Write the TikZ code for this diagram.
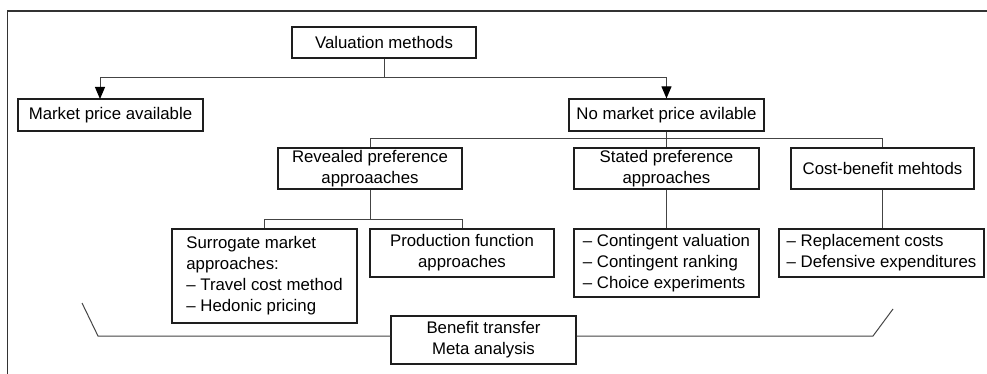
\documentclass[tikz,border=0pt]{standalone}
\usepackage{fontspec}
\setmainfont{Liberation Sans}
\usetikzlibrary{arrows.meta}
\definecolor{boxc}{HTML}{1E1E1E}
\definecolor{linec}{HTML}{444444}
\definecolor{framec}{HTML}{333333}
\begin{document}
\begin{tikzpicture}[x=1pt,y=-1pt,
  box/.style={draw=boxc, line width=1.2pt, inner sep=0pt, align=center,
    font=\fontsize{16.8}{21}\selectfont},
  lbox/.style={box, align=left},
  conn/.style={draw=linec, line width=1pt},
  arr/.style={conn, -{Triangle[length=12pt,width=10pt,fill=black,color=black]}}]
\useasboundingbox (0,0) rectangle (987,374);
\draw[framec, line width=1.2pt] (7.5,374) -- (7.5,11) -- (987,11);

\node[box, minimum width=184, minimum height=31] (vm) at (384,42.5) {Valuation methods};
\node[box, minimum width=185, minimum height=32] (market) at (110.5,115) {Market price available};
\node[box, minimum width=195, minimum height=32] (nomarket) at (666.5,115) {No market price avilable};
\node[box, minimum width=184, minimum height=41] (revealed) at (370,168.5) {Revealed preference\\approaaches};
\node[box, minimum width=185, minimum height=41] (stated) at (666.5,168.5) {Stated preference\\approaches};
\node[box, minimum width=183, minimum height=41] (cost) at (882.5,168.5) {Cost-benefit mehtods};
\node[lbox, minimum width=185, minimum height=94] (surrogate) at (264.5,276)
  {Surrogate market\\approaches:\\-- Travel cost method\\-- Hedonic pricing};
\node[box, minimum width=184, minimum height=48] (production) at (462,253) {Production function\\approaches};
\node[lbox, minimum width=185, minimum height=68] (statedlist) at (666.5,263)
  {-- Contingent valuation\\-- Contingent ranking\\-- Choice experiments};
\node[lbox, minimum width=205, minimum height=48] (costlist) at (881.5,253)
  {-- Replacement costs\\-- Defensive expenditures};
\node[box, minimum width=185, minimum height=48] (benefit) at (483.5,340) {Benefit transfer\\Meta analysis};

\coordinate (b1) at (0,78);
\coordinate (mkt) at (100,99);
\draw[arr] (vm.south) -- (vm.south |- b1) -| (mkt);
\draw[arr] (vm.south |- b1) -| (nomarket.north);

\coordinate (b2) at (0,139);
\draw[conn] (nomarket.south) -- (nomarket.south |- b2) -| (revealed.north);
\draw[conn] (nomarket.south |- b2) -| (cost.north);
\draw[conn] (nomarket.south |- b2) -- (stated.north);

\coordinate (b3) at (0,219);
\draw[conn] (revealed.south) -- (revealed.south |- b3) -| (surrogate.north);
\draw[conn] (revealed.south |- b3) -| (production.north);
\draw[conn] (stated.south) -- (stated.south |- statedlist.north);
\draw[conn] (cost.south) -- (cost.south |- costlist.north);

\coordinate (bl0) at (82,303);
\coordinate (bl) at (98,336);
\coordinate (br) at (873,336);
\coordinate (br0) at (893,309);
\draw[conn] (bl0) -- (bl) -- (bl -| benefit.west);
\draw[conn] (benefit.east |- br) -- (br) -- (br0);
\end{tikzpicture}
\end{document}
